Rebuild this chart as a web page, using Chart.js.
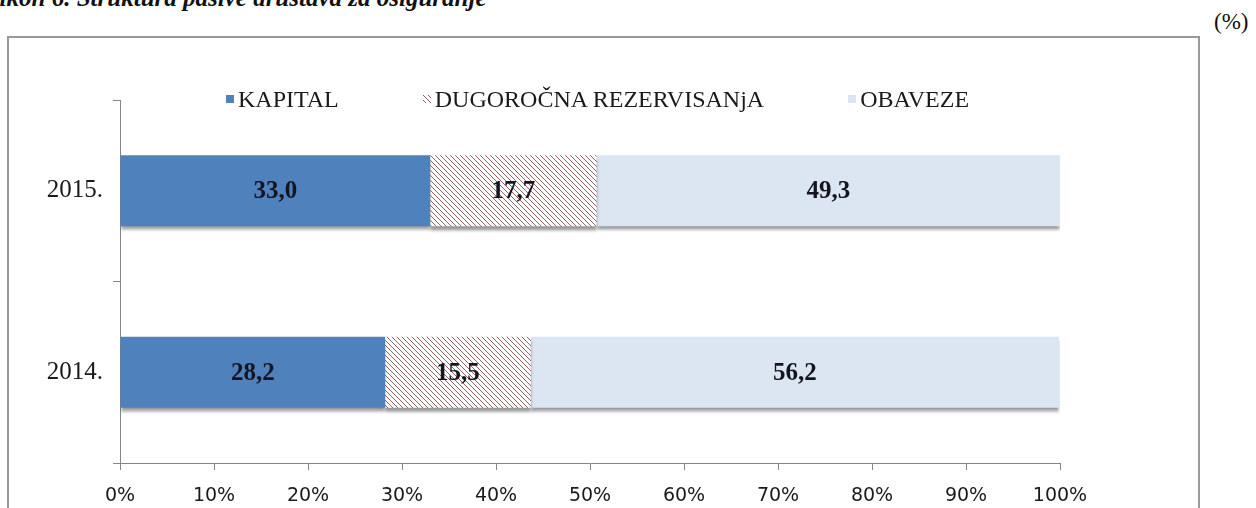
<!DOCTYPE html>
<html>
<head>
<meta charset="utf-8">
<script src="https://cdn.jsdelivr.net/npm/chart.js@4.4.1/dist/chart.umd.min.js"></script>
<style>
  html, body { margin: 0; padding: 0; background: #fff; width: 1256px; height: 508px; overflow: hidden; position: relative; }
  #title { position: absolute; left: -49px; top: -15px; font: italic bold 25px "Liberation Serif", serif; line-height: 25px; white-space: nowrap; color: #111; }
  #unit { position: absolute; left: 1214px; top: 8px; font: 23px "Liberation Serif", serif; line-height: 28px; color: #111; }
  #frame { position: absolute; left: 7px; top: 36px; width: 1189px; height: 500px; border: 2px solid #999; }
  #chartWrap { position: absolute; left: 0; top: 0; width: 1256px; height: 508px; }
  #legend { position: absolute; left: 226px; top: 86px; display: flex; gap: 84px; font: 24px "Liberation Serif", serif; color: #1a1a1a; line-height: 26px; }
  .item { display: flex; align-items: center; }
  .swatch { width: 8px; height: 8px; margin-right: 4px; }
</style>
</head>
<body>
<div id="title">Grafikon 6. Struktura pasive društava za osiguranje</div>
<div id="unit">(%)</div>
<div id="frame"></div>
<div id="chartWrap"><canvas id="chart" width="1256" height="508"></canvas></div>
<div id="legend"></div>
<script>
// data
const years = ['2015.', '2014.'];
const kapital = [33.0, 28.2];
const rezervisanja = [17.7, 15.5];
const obaveze = [49.3, 56.2];
const seriesNames = ['KAPITAL', 'DUGOROČNA REZERVISANjA', 'OBAVEZE'];
const xTickValues = [0, 10, 20, 30, 40, 50, 60, 70, 80, 90, 100];

// diagonal hatch for the provisions series
function makeHatch() {
  const s = 5;
  const c = document.createElement('canvas');
  c.width = s; c.height = s;
  const g = c.getContext('2d');
  g.fillStyle = '#ffffff';
  g.fillRect(0, 0, s, s);
  g.strokeStyle = '#946260';
  g.lineWidth = 1;
  g.beginPath();
  g.moveTo(-1, -1); g.lineTo(s + 1, s + 1);
  g.moveTo(-1, s - 1); g.lineTo(1, s + 1);
  g.moveTo(s - 1, -1); g.lineTo(s + 1, 1);
  g.stroke();
  return c;
}
const hatchCanvas = makeHatch();
const ctx = document.getElementById('chart').getContext('2d');
const hatch = ctx.createPattern(hatchCanvas, 'repeat');

const colors = ['#4f81bd', hatch, '#dce6f2'];
const swatchCss = ['#4f81bd', 'url(' + hatchCanvas.toDataURL() + ')', '#dce6f2'];

// legend
const legend = document.getElementById('legend');
seriesNames.forEach((name, i) => {
  const item = document.createElement('div');
  item.className = 'item';
  const sw = document.createElement('span');
  sw.className = 'swatch';
  sw.style.background = swatchCss[i];
  const tx = document.createElement('span');
  tx.textContent = name;
  item.appendChild(sw);
  item.appendChild(tx);
  legend.appendChild(item);
});

const barShadow = {
  id: 'barShadow',
  beforeDatasetsDraw(chart) {
    const c = chart.ctx;
    c.save();
    c.shadowColor = 'rgba(0,0,0,0.4)';
    c.shadowBlur = 3;
    c.shadowOffsetY = 4;
  },
  afterDatasetsDraw(chart) {
    chart.ctx.restore();
  }
};

const valueLabels = {
  id: 'valueLabels',
  afterDraw(chart) {
    const c = chart.ctx;
    c.save();
    c.font = 'bold 25px "Liberation Serif"';
    c.fillStyle = '#15151f';
    c.textAlign = 'center';
    c.textBaseline = 'middle';
    chart.data.datasets.forEach((ds, i) => {
      chart.getDatasetMeta(i).data.forEach((el, j) => {
        const v = ds.data[j];
        c.fillText(v.toFixed(1).replace('.', ','), (el.x + el.base) / 2, el.y + 1);
      });
    });
    c.restore();
  }
};

new Chart(ctx, {
  type: 'bar',
  data: {
    labels: years,
    datasets: [
      { label: seriesNames[0], data: kapital, backgroundColor: colors[0] },
      { label: seriesNames[1], data: rezervisanja, backgroundColor: colors[1] },
      { label: seriesNames[2], data: obaveze, backgroundColor: colors[2] },
    ]
  },
  options: {
    indexAxis: 'y',
    responsive: false,
    animation: false,
    devicePixelRatio: 1,
    categoryPercentage: 1,
    barPercentage: 0.39,
    layout: { padding: { left: 0, right: 196, top: 100, bottom: 0 } },
    plugins: { legend: { display: false }, tooltip: { enabled: false } },
    scales: {
      x: {
        stacked: true,
        min: 0,
        max: 100,
        afterBuildTicks(s) { s.ticks = xTickValues.map(v => ({ value: v })); },
        border: { color: '#868686' },
        grid: { drawOnChartArea: false, tickLength: 7, color: '#868686' },
        ticks: { callback: v => v + '%', font: { family: 'DejaVu Sans', size: 19 }, color: '#1a1a1a', padding: 15, maxRotation: 0 },
        afterFit(s) { s.height = 45; }
      },
      y: {
        stacked: true,
        border: { color: '#868686' },
        grid: { offset: true, drawOnChartArea: false, tickLength: 7, color: '#868686' },
        ticks: { font: { family: 'Liberation Serif', size: 25 }, color: '#1a1a1a', padding: 10 },
        afterFit(s) { s.width = 120; }
      }
    }
  },
  plugins: [barShadow, valueLabels]
});
</script>
</body>
</html>
